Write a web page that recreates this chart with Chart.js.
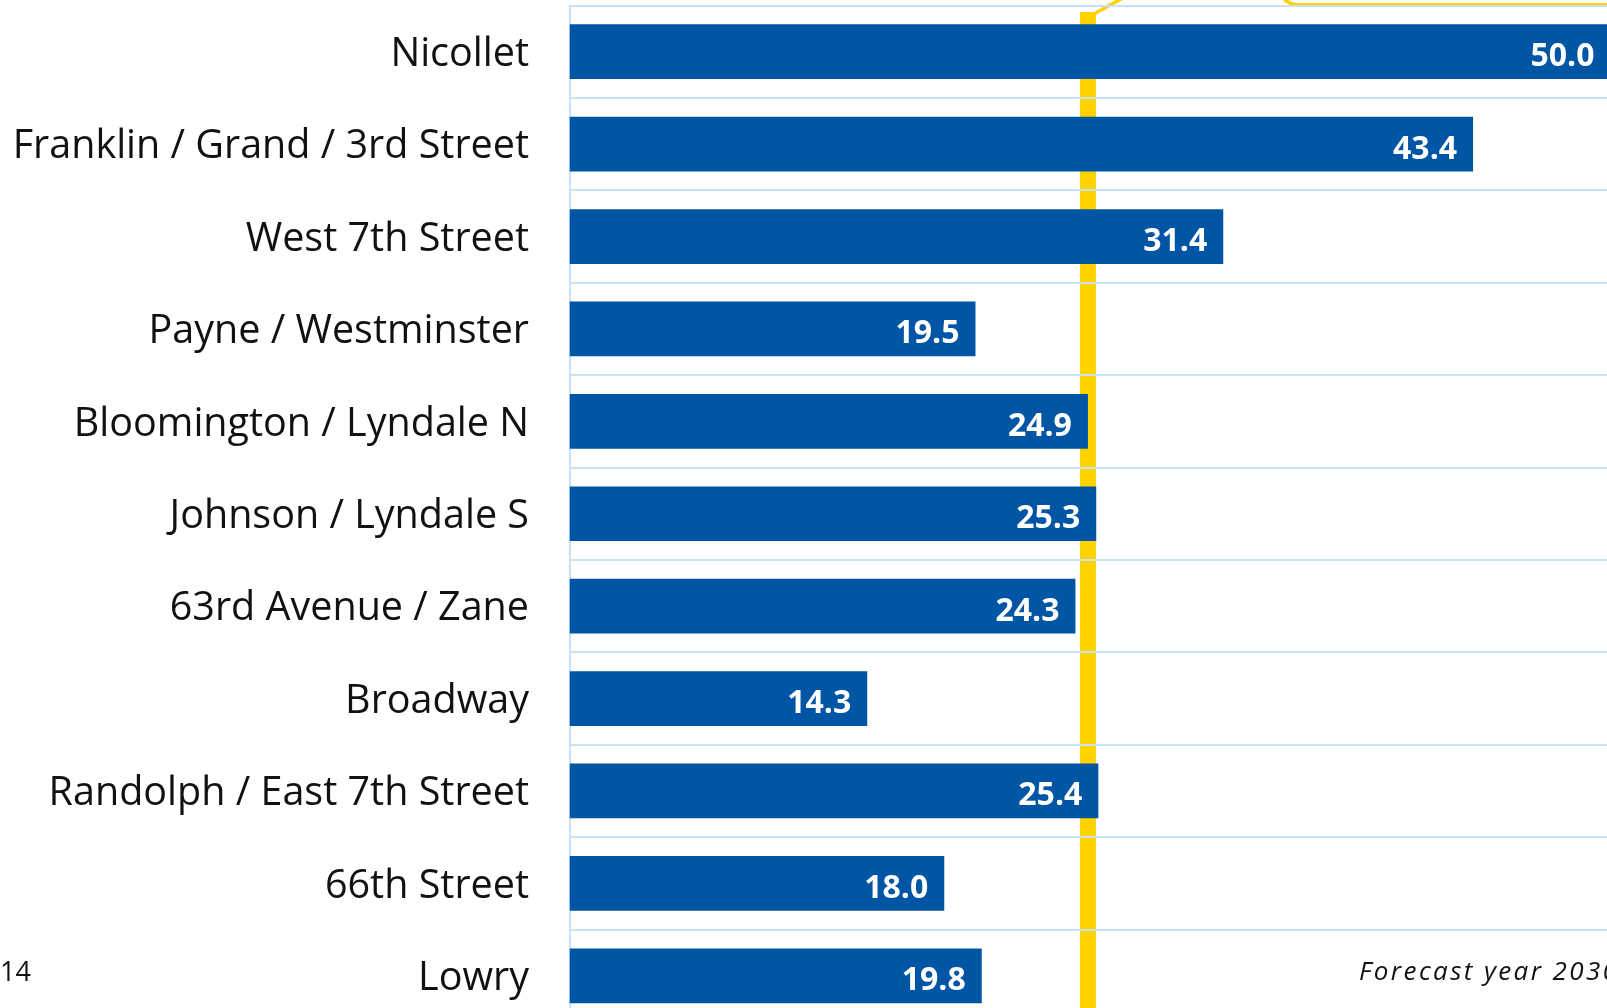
<!DOCTYPE html>
<html>
<head>
<meta charset="utf-8">
<script src="https://cdn.jsdelivr.net/npm/chart.js@4.4.1/dist/chart.umd.min.js"></script>
<style>
  html, body { margin: 0; padding: 0; background: #ffffff; overflow: hidden; width: 1607px; height: 1008px; }
  #wrap { position: absolute; left: 0; top: 0; width: 1620px; height: 1030px; }
</style>
</head>
<body>
<div id="wrap"><canvas id="c" width="1620" height="1030"></canvas></div>
<script>
// ---- data ----
const categories = [
  'Nicollet',
  'Franklin / Grand / 3rd Street',
  'West 7th Street',
  'Payne / Westminster',
  'Bloomington / Lyndale N',
  'Johnson / Lyndale S',
  '63rd Avenue / Zane',
  'Broadway',
  'Randolph / East 7th Street',
  '66th Street',
  'Lowry'
];
const values = [50.0, 43.4, 31.4, 19.5, 24.9, 25.3, 24.3, 14.3, 25.4, 18.0, 19.8];
const referenceValue = 24.9;
const xRange = [0, 50];
const leftNote = '14';
const rightNote = 'Forecast year 2030';

// ---- styles ----
const BLUE = '#0055a4';
const GRID = '#c9e2fa';
const YELLOW = '#ffd200';
const TEXT = '#111111';

const overlay = {
  id: 'overlay',
  beforeDraw(chart) {
    const { ctx, chartArea, scales } = chart;
    const cx = scales.x.getPixelForValue(referenceValue);
    ctx.save();
    // reference line
    ctx.fillStyle = YELLOW;
    ctx.fillRect(cx - 8, chartArea.top + 6.5, 16, chart.height);
    // leader line
    ctx.strokeStyle = YELLOW;
    ctx.lineWidth = 3.5;
    ctx.beginPath();
    ctx.moveTo(cx + 5, chartArea.top + 9);
    ctx.lineTo(cx + 45, chartArea.top - 13);
    ctx.stroke();
    // callout box (mostly above the visible area)
    const bx = 1280, by = -140, bw = 420, bh = 144.7, r = 17;
    ctx.beginPath();
    ctx.moveTo(bx + r, by);
    ctx.lineTo(bx + bw - r, by);
    ctx.arcTo(bx + bw, by, bx + bw, by + r, r);
    ctx.lineTo(bx + bw, by + bh - r);
    ctx.arcTo(bx + bw, by + bh, bx + bw - r, by + bh, r);
    ctx.lineTo(bx + r, by + bh);
    ctx.arcTo(bx, by + bh, bx, by + bh - r, r);
    ctx.lineTo(bx, by + r);
    ctx.arcTo(bx, by, bx + r, by, r);
    ctx.closePath();
    ctx.lineWidth = 3.5;
    ctx.stroke();
    ctx.restore();
  },
  afterDatasetsDraw(chart) {
    const { ctx } = chart;
    const meta = chart.getDatasetMeta(0);
    ctx.save();
    ctx.fillStyle = '#ffffff';
    ctx.font = 'bold 32px "Open Sans"';
    ctx.textAlign = 'right';
    ctx.textBaseline = 'alphabetic';
    meta.data.forEach((el, i) => {
      ctx.fillText(values[i].toFixed(1), el.x - 16, el.y + 14.5);
    });
    ctx.restore();
  },
  afterDraw(chart) {
    const { ctx } = chart;
    ctx.save();
    ctx.fillStyle = TEXT;
    ctx.textBaseline = 'alphabetic';
    ctx.textAlign = 'left';
    ctx.font = '27px "Open Sans"';
    ctx.fillText(leftNote, 0, 981);
    ctx.font = 'italic 26px "Open Sans"';
    try { ctx.letterSpacing = '2.4px'; } catch (e) {}
    ctx.fillText(rightNote, 1359, 980);
    ctx.restore();
  }
};

function build() {
  new Chart(document.getElementById('c'), {
    type: 'bar',
    data: {
      labels: categories,
      datasets: [{
        data: values,
        backgroundColor: BLUE,
        borderWidth: 0,
        categoryPercentage: 1,
        barPercentage: 0.592
      }]
    },
    options: {
      indexAxis: 'y',
      responsive: false,
      animation: false,
      layout: { padding: { left: 0, right: 9.5, top: 5.5, bottom: 8 } },
      plugins: { legend: { display: false }, tooltip: { enabled: false } },
      scales: {
        x: {
          min: xRange[0],
          max: xRange[1],
          display: false,
          grid: { display: false }
        },
        y: {
          afterFit(scale) {
            scale.width = 569.5;
            scale.paddingTop = 0;
            scale.paddingBottom = 0;
          },
          grid: { color: GRID, lineWidth: 2, drawTicks: false, offset: true },
          border: { display: true, color: GRID, width: 2 },
          ticks: {
            color: TEXT,
            padding: 40.5,
            labelOffset: 3,
            font: { family: '"Open Sans"', size: 39.5 }
          }
        }
      }
    },
    plugins: [overlay]
  });
}

Promise.all([
  document.fonts.load('39px "Open Sans"'),
  document.fonts.load('bold 32px "Open Sans"'),
  document.fonts.load('italic 25px "Open Sans"')
]).then(build, build);
</script>
</body>
</html>
